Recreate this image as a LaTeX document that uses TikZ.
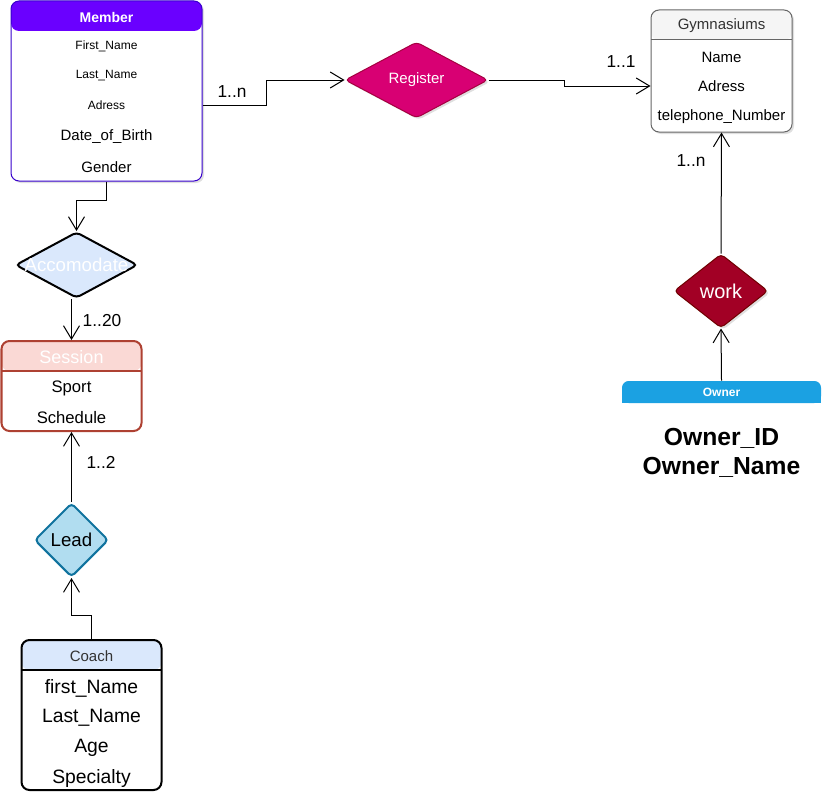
\documentclass[tikz,border=0pt]{standalone}
\usepackage{fontspec}
\setmainfont{Liberation Sans}
\usetikzlibrary{positioning,shapes.geometric,arrows.meta,shadows}

\definecolor{memberfill}{HTML}{6A00FF}
\definecolor{memberline}{HTML}{3700CC}
\definecolor{registerfill}{HTML}{D80073}
\definecolor{registerline}{HTML}{A50040}
\definecolor{gymfill}{HTML}{F5F5F5}
\definecolor{gymline}{HTML}{666666}
\definecolor{gymtext}{HTML}{333333}
\definecolor{workfill}{HTML}{A20025}
\definecolor{workline}{HTML}{6F0000}
\definecolor{ownerfill}{HTML}{1BA1E2}
\definecolor{accfill}{HTML}{DAE8FC}
\definecolor{sessionfill}{HTML}{FAD9D5}
\definecolor{sessionline}{HTML}{AE4132}
\definecolor{leadfill}{HTML}{B1DDF0}
\definecolor{leadline}{HTML}{10739E}

\begin{document}
\begin{tikzpicture}[x=0.75pt,y=-0.75pt,
semithick,
edge/.style = {-{Straight Barb[length=10pt,width=12pt]},line width=0.75pt},
entity/.style = {rectangle,rounded corners=6pt,inner sep=0pt,fill=white},
hdr/.style n args = {3}{path picture={
  \fill[#1] (path picture bounding box.north west) rectangle ([yshift=-#2]path picture bounding box.north east);
  \draw[#3] ([yshift=-#2]path picture bounding box.north west) -- ([yshift=-#2]path picture bounding box.north east);}},
rel/.style = {diamond,inner sep=0pt,rounded corners=3pt},
shade/.style = {drop shadow={opacity=0.25,shadow xshift=1.5pt,shadow yshift=-1.5pt}},
small/.style = {font=\fontsize{9}{10}\selectfont},
attr/.style = {font=\fontsize{11.25}{13}\selectfont},
big/.style = {font=\fontsize{12.5}{14}\selectfont},
huge/.style = {font=\fontsize{14.5}{16}\selectfont},
card/.style = {font=\fontsize{13}{15}\selectfont}]

\useasboundingbox (0,0) rectangle (823,792);

% entities
\node[entity,shade,draw=memberline,line width=0.75pt,minimum width=143.25pt,minimum height=135pt,
  hdr={memberfill}{22.5pt}{draw=none}] (member) at (106.5,91) {};
\node[white,font=\bfseries\fontsize{10.5}{12}\selectfont] (member_h) at (106.5,17) {Member};
\node[small] (m_first) at (106.5,46) {First\_Name};
\node[small] (m_last) at (106.5,76) {Last\_Name};
\node[small] (m_adress) at (106.5,105) {Adress};
\node[attr] (m_dob) at (106.5,137) {Date\_of\_Birth};
\node[attr] (m_gender) at (106.5,167) {Gender};

\node[entity,shade,draw=gymline,line width=0.75pt,minimum width=105.75pt,minimum height=91.5pt,
  hdr={gymfill}{22.5pt}{gymline,line width=0.75pt}] (gym) at (721.5,71) {};
\node[attr,gymtext] (gym_h) at (721.5,26) {Gymnasiums};
\node[attr] (g_name) at (721.5,57) {Name};
\node[attr] (g_adress) at (721.5,86) {Adress};
\node[attr] (g_tel) at (721.5,117) {telephone\_Number};

\node[entity,draw=sessionline,line width=1.5pt,minimum width=105pt,minimum height=67.5pt,
  hdr={sessionfill}{22.5pt}{sessionline,line width=1.5pt}] (session) at (71.5,386) {};
\node[white,font=\fontsize{13.5}{15}\selectfont] (session_h) at (71.5,357) {Session};
\node[big] (s_sport) at (71.5,388) {Sport};
\node[big] (s_sched) at (71.5,418) {Schedule};

\node[entity,draw=black,line width=1.5pt,minimum width=105pt,minimum height=112.5pt,
  hdr={accfill}{22.5pt}{black,line width=1.5pt}] (coach) at (91.5,715) {};
\node[attr,gymtext] (coach_h) at (91.5,656) {Coach};
\node[huge] (c_first) at (91.5,688) {first\_Name};
\node[huge] (c_last) at (91.5,718) {Last\_Name};
\node[huge] (c_age) at (91.5,748) {Age};
\node[huge] (c_spec) at (91.5,778) {Specialty};

\fill[ownerfill,rounded corners=5pt] (622,381) rectangle (821,403);
\fill[ownerfill] (622,392) rectangle (821,403);
\node[white,font=\bfseries\fontsize{9}{10}\selectfont,minimum width=149.25pt,minimum height=16.5pt,inner sep=0pt] (owner) at (721.5,392) {Owner};
\node[font=\bfseries\fontsize{18.5}{20}\selectfont] (o_id) at (721.5,438) {Owner\_ID};
\node[font=\bfseries\fontsize{18.5}{20}\selectfont] (o_name) at (721.5,467) {Owner\_Name};

% relations
\node[rel,shade,fill=registerfill,draw=registerline,line width=0.75pt,minimum width=107.25pt,minimum height=57pt,
  text=white,attr] (register) at (416.5,80) {\makebox[0pt]{Register}};
\node[rel,shade,fill=workfill,draw=workline,line width=0.75pt,minimum width=70.5pt,minimum height=55.5pt,
  text=white,font=\fontsize{15}{17}\selectfont] (work) at (721,291) {\makebox[0pt]{work}};
\node[rel,fill=accfill,draw=black,line width=1.5pt,minimum width=91.5pt,minimum height=49.5pt,
  text=white,font=\fontsize{14}{16}\selectfont] (acc) at (76.5,265) {\makebox[0pt]{Accomodate}};
\node[rel,fill=leadfill,draw=leadline,line width=1.5pt,minimum width=55.5pt,minimum height=55.5pt,
  font=\fontsize{14}{16}\selectfont] (lead) at (71.5,540) {\makebox[0pt]{Lead}};

% connectors
\draw[edge] (member.east |- m_adress) -- ++(64,0) |- (register.west);
\draw[edge] (register.east) -- ++(76,0) |- (gym.west |- g_adress);
\draw[edge] (work.north) -- (gym.south);
\draw[edge] (owner.north) -- (work.south);
\draw[edge] (member.south) -- ++(0,19) -| (acc.north);
\draw[edge] (acc.south -| session.north) -- (session.north);
\draw[edge] (lead.north) -- (session.south);
\draw[edge] (coach.north) -- ++(0,-24) -| (lead.south);

\node[card] (card_mr) at (232,92) {1..n};
\node[card] (card_rg) at (621,62) {1..1};
\node[card] (card_wg) at (691,161) {1..n};
\node[card] (card_as) at (102,321) {1..20};
\node[card] (card_ls) at (101,462) {1..2};

\end{tikzpicture}
\end{document}
